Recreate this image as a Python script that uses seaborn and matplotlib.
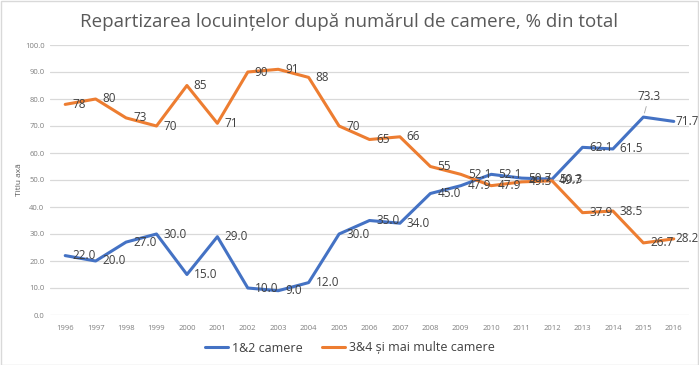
import matplotlib
matplotlib.use("Agg")
import matplotlib.pyplot as plt
import seaborn as sns
import pandas as pd
from matplotlib.patches import Rectangle

years = list(range(1996, 2017))
s1_name = "1&2 camere"
s2_name = "3&4 și mai multe camere"
s1 = [22.0, 20.0, 27.0, 30.0, 15.0, 29.0, 10.0, 9.0, 12.0, 30.0, 35.0, 34.0,
      45.0, 47.9, 52.1, 50.7, 50.3, 62.1, 61.5, 73.3, 71.7]
s2 = [78, 80, 73, 70, 85, 71, 90, 91, 88, 70, 65, 66,
      55, 52.1, 47.9, 49.3, 49.7, 37.9, 38.5, 26.7, 28.2]
s1_labels = [f"{v:.1f}" for v in s1]
s2_labels = ["78", "80", "73", "70", "85", "71", "90", "91", "88", "70", "65", "66",
             "55", "52.1", "47.9", "49.3", "49.7", "37.9", "38.5", "26.7", "28.2"]
title = "Repartizarea locuințelor după numărul de camere, % din total"
ylabel = "Titlu axă"
yticks = [0, 10, 20, 30, 40, 50, 60, 70, 80, 90, 100]

sns.set_theme(style="white")
plt.rcParams['font.family'] = ['Open Sans', 'DejaVu Sans']

df = pd.DataFrame({
    "An": years * 2,
    "Valoare": s1 + s2,
    "Serie": [s1_name] * len(years) + [s2_name] * len(years),
})

blue = "#4472C4"
orange = "#ED7D31"
fig = plt.figure(figsize=(6.99, 3.65), dpi=100)
ax = fig.add_axes([50/699, 1-315/365, 639/699, 270/365])
sns.lineplot(data=df, x="An", y="Valoare", hue="Serie",
             palette={s1_name: blue, s2_name: orange},
             linewidth=2.2, ax=ax, legend=True)

ax.set_xlim(years[0]-0.5, years[-1]+0.5)
ax.set_ylim(0, 100)
ax.set_yticks(yticks)
ax.set_yticklabels([f"{v:.1f}" for v in yticks])
ax.set_xticks(years)
ax.set_xticklabels([str(y) for y in years])
ax.tick_params(axis='both', labelsize=5.5, labelcolor="#7f7f7f", length=0)
ax.tick_params(axis='x', pad=7)
ax.tick_params(axis='y', pad=4)
ax.grid(axis='y', color="#d9d9d9", linewidth=0.9)
ax.set_axisbelow(True)
for sp in ax.spines.values():
    sp.set_visible(False)
ax.set_xlabel("")
ax.set_ylabel(ylabel, fontsize=6, color="#595959", labelpad=1)

lab_col = "#404040"
last = years[-1]
for x, v, t in zip(years, s1, s1_labels):
    if x == 2015:
        ax.annotate(t, (x, v), xytext=(4, 10), textcoords='offset points',
                    ha='center', va='bottom', fontsize=8.5, color=lab_col,
                    arrowprops=dict(arrowstyle='-', color="#a6a6a6", lw=0.6,
                                    shrinkA=0, shrinkB=3))
    else:
        dx = 1 if x == last else 5
        ax.annotate(t, (x, v), xytext=(dx, 0), textcoords='offset points',
                    ha='left', va='center', fontsize=8.5, color=lab_col)
for x, v, t in zip(years, s2, s2_labels):
    dx = 1 if x == last else 5
    ax.annotate(t, (x, v), xytext=(dx, 0), textcoords='offset points',
                ha='left', va='center', fontsize=8.5, color=lab_col)

fig.suptitle(title, x=0.5, y=0.965, fontsize=13.5, color="#595959")

leg = ax.legend(loc='center', bbox_to_anchor=(350/699, 1-348/365),
                bbox_transform=fig.transFigure, ncol=2, frameon=False,
                fontsize=9, handlelength=1.8, handletextpad=0.3,
                columnspacing=1.6, labelcolor="#404040")
for h in leg.get_lines():
    h.set_linewidth(2.2)

fig.patches.append(Rectangle((0.5/699, 0.5/365), 1-1.5/699, 1-1.5/365,
                             transform=fig.transFigure, fill=False,
                             edgecolor="#d9d9d9", linewidth=1))
fig.savefig("out.png", dpi=100)
